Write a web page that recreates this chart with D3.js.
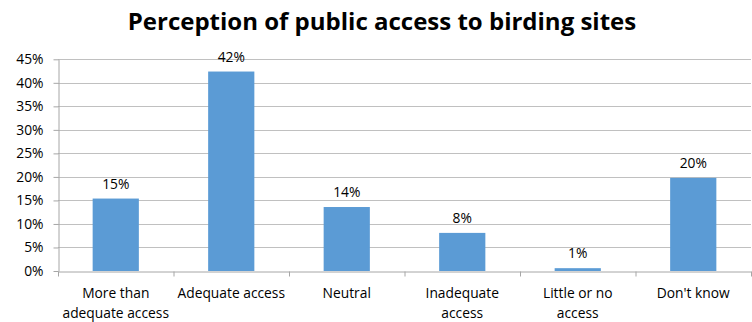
<!DOCTYPE html>
<html><head><meta charset="utf-8">
<script src="https://cdn.jsdelivr.net/npm/d3@7"></script>
<style>body{margin:0;background:#fff}svg{display:block}</style>
</head><body>
<script>
const categories = [["More than","adequate access"],["Adequate access"],["Neutral"],["Inadequate","access"],["Little or no","access"],["Don't know"]];
const values = [0.154, 0.424, 0.136, 0.081, 0.006, 0.198];
const valueLabels = ["15%","42%","14%","8%","1%","20%"];
const yTicks = [0,0.05,0.10,0.15,0.20,0.25,0.30,0.35,0.40,0.45];
const title = "Perception of public access to birding sites";

(function(){
const W=752,H=322, mLeft=58, mRight=751, mTop=59.3, mBottom=271;
const font = "'Open Sans', 'Liberation Sans', sans-serif";
const fs = 13.8;
const svg = d3.select("body").append("svg").attr("width",W).attr("height",H);

const x = d3.scaleBand().domain(d3.range(categories.length)).range([mLeft,mRight]).paddingInner(0.6).paddingOuter(0.3);
const y = d3.scaleLinear().domain([0,0.45]).range([mBottom,mTop]);

svg.append("text").attr("x",382).attr("y",30).attr("text-anchor","middle")
  .attr("font-family",font).attr("font-weight","bold").attr("font-size",24).attr("fill","#000").text(title);

svg.append("g").selectAll("line").data(yTicks.slice(1)).join("line")
  .attr("x1",mLeft).attr("x2",mRight).attr("y1",d=>Math.round(y(d))+0.5).attr("y2",d=>Math.round(y(d))+0.5)
  .attr("stroke","#c0c0c0").attr("stroke-width",1);

const ya = svg.append("g").attr("transform",`translate(${mLeft+0.5},0)`)
  .call(d3.axisLeft(y).tickValues(yTicks).tickFormat(d3.format(".0%")).tickSize(5).tickSizeOuter(0));
ya.select(".domain").attr("stroke","#a6a6a6");
ya.selectAll(".tick line").attr("stroke","#a6a6a6");
ya.selectAll(".tick text").attr("font-family",font).attr("font-size",fs).attr("fill","#000").attr("x",-15);

svg.append("g").selectAll("rect").data(values).join("rect")
  .attr("x",(d,i)=>x(i)).attr("width",x.bandwidth())
  .attr("y",d=>y(d)).attr("height",d=>mBottom-y(d)).attr("fill","#5b9bd5");

const xb = d3.scaleLinear().domain([0,categories.length]).range([mLeft,mRight]);
const xa = svg.append("g").attr("transform",`translate(0,${mBottom+0.5})`)
  .call(d3.axisBottom(xb).tickValues(d3.range(categories.length+1)).tickFormat("").tickSize(5).tickSizeOuter(0));
xa.select(".domain").attr("stroke","#a6a6a6");
xa.selectAll(".tick line").attr("stroke","#a6a6a6");

const cl = svg.append("g").selectAll("text").data(categories).join("text")
  .attr("text-anchor","middle").attr("font-family",font).attr("font-size",fs).attr("fill","#000");
cl.each(function(lines,i){
  const t=d3.select(this);
  lines.forEach((s,j)=>t.append("tspan").attr("x",x(i)+x.bandwidth()/2).attr("y",298+j*20).text(s));
});

svg.append("g").selectAll("text").data(values).join("text")
  .attr("x",(d,i)=>x(i)+x.bandwidth()/2).attr("y",d=>y(d)-10)
  .attr("text-anchor","middle").attr("font-family",font).attr("font-size",fs).attr("fill","#000")
  .text((d,i)=>valueLabels[i]);
})();
</script>
</body></html>
